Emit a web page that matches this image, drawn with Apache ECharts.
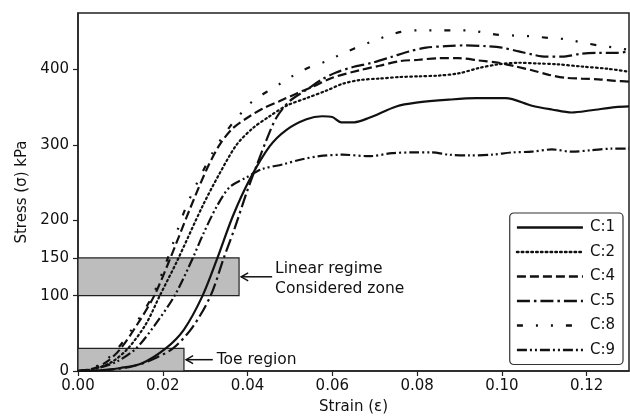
<!DOCTYPE html>
<html><head><meta charset="utf-8">
<script src="https://cdn.jsdelivr.net/npm/echarts@6/dist/echarts.min.js"></script>
<style>html,body{margin:0;padding:0;background:#fff}#c{width:630px;height:420px}</style>
</head><body><div id="c"></div>
<script>
const xTicks = [0, 0.02, 0.04, 0.06, 0.08, 0.10, 0.12];
const yTicks = [0, 100, 150, 200, 300, 400];
const seriesNames = ['C:1', 'C:2', 'C:4', 'C:5', 'C:8', 'C:9'];

const c1 = [[0,0],[0.005,1],[0.01,4],[0.015,10],[0.0207,30],[0.025,55],[0.0294,100],[0.0329,150],[0.0365,205],[0.0405,254],[0.0452,298],[0.0492,320],[0.0539,334],[0.0576,338],[0.060,337],[0.0621,330],[0.0652,330],[0.0687,336],[0.0751,351],[0.0798,356],[0.0875,360],[0.0939,362],[0.1009,362],[0.1071,352],[0.1118,347],[0.1165,343],[0.1212,346],[0.1268,350],[0.13,351]];
const c2 = [[0,0],[0.004,3],[0.008,12],[0.0118,30],[0.016,62],[0.0193,100],[0.0233,145],[0.0294,219],[0.0334,262],[0.0374,300],[0.0412,322],[0.0452,338],[0.0492,352],[0.0539,362],[0.0586,372],[0.0624,381],[0.0664,386],[0.0711,388],[0.0758,390],[0.0805,391],[0.0852,392],[0.0899,395],[0.0946,402],[0.0993,407],[0.104,409],[0.1085,408],[0.113,407],[0.1188,404],[0.125,401],[0.13,397]];
const c4 = [[0,0],[0.004,4],[0.007,13],[0.0101,30],[0.014,62],[0.018,100],[0.0218,150],[0.0264,215],[0.0304,268],[0.0334,300],[0.0365,322],[0.0405,338],[0.0435,348],[0.0475,358],[0.0515,368],[0.0553,377],[0.060,389],[0.0664,399],[0.0711,405],[0.0758,411],[0.0805,413],[0.0852,415],[0.0899,415],[0.0946,412],[0.0993,409],[0.1033,404],[0.1071,399],[0.1111,393],[0.1151,389],[0.1188,388],[0.1228,387],[0.1268,385],[0.13,384]];
const c5 = [[0,0],[0.006,1],[0.012,5],[0.017,14],[0.0224,30],[0.027,58],[0.0313,100],[0.0344,150],[0.037,190],[0.0398,237],[0.0421,272],[0.0445,307],[0.0468,336],[0.0499,358],[0.0539,373],[0.0576,387],[0.0609,396],[0.0647,403],[0.0694,409],[0.0741,417],[0.0781,424],[0.0821,429],[0.0868,431],[0.0915,432],[0.0962,431],[0.1,429],[0.104,424],[0.1071,420],[0.1104,417],[0.1141,417],[0.1188,421],[0.1228,422],[0.1268,422],[0.13,424]];
const c8 = [[0,0],[0.003,3],[0.006,12],[0.0094,30],[0.0135,62],[0.0176,100],[0.0212,150],[0.0256,219],[0.0318,290],[0.0362,327],[0.0388,344],[0.0412,358],[0.0447,371],[0.0482,383],[0.0511,393],[0.0546,403],[0.0586,411],[0.0616,419],[0.0652,428],[0.0692,437],[0.0727,444],[0.0762,450],[0.0805,452],[0.084,452],[0.0882,452],[0.0922,452],[0.0958,449],[0.0993,446],[0.1033,445],[0.1071,444],[0.1111,442],[0.1153,440],[0.1188,436],[0.1228,432],[0.1268,429],[0.13,426]];
const c9 = [[0,0],[0.004,3],[0.009,12],[0.0137,30],[0.018,60],[0.0228,100],[0.0271,150],[0.0294,180],[0.0327,218],[0.0358,244],[0.0398,257],[0.0435,268],[0.0482,274],[0.0529,281],[0.0569,285],[0.0624,287],[0.0687,285],[0.0741,289],[0.0788,290],[0.0835,290],[0.0875,287],[0.0922,286],[0.0976,287],[0.1024,290],[0.1071,291],[0.1118,294],[0.1165,291],[0.1212,293],[0.1259,295],[0.13,295]];
const seriesData = [c1, c2, c4, c5, c8, c9];

const linearZone = [[0, 100], [0.038, 150]];
const toeZone = [[0, 0], [0.025, 30]];
const linearArrow = [[0.0458, 125], [0.0385, 125]];
const toeArrow = [[0.0318, 15], [0.0255, 15]];
const linearText = ['Linear regime', 'Considered zone'];
const toeText = 'Toe region';

const dashes = ['solid', [1.6, 3.2], [9, 4], [13, 4, 2.5, 4], [6, 13, 2, 13, 2, 13], [10, 3, 2, 3, 2, 3]];
const FONT = 'DejaVu Sans';
const INK = '#111';

const chart = echarts.init(document.getElementById('c'), null, {renderer: 'canvas'});

const series = seriesNames.map((n, i) => ({
  name: n, type: 'line', data: seriesData[i], showSymbol: false, symbol: 'none',
  smooth: 0.3, z: 3,
  lineStyle: {color: INK, width: 2.2, type: dashes[i], cap: i === 1 ? 'round' : 'butt'},
  itemStyle: {color: INK}
}));
series.push({
  name: 'zones', type: 'line', data: [], z: 1,
  markArea: {
    silent: true,
    itemStyle: {color: '#bdbdbd', borderColor: '#222', borderWidth: 1.2},
    data: [
      [{coord: linearZone[0]}, {coord: linearZone[1]}],
      [{coord: toeZone[0]}, {coord: toeZone[1]}]
    ]
  }
});

chart.setOption({
  animation: false,
  backgroundColor: '#fff',
  grid: {left: 78, right: 1, top: 13, bottom: 48, show: true, borderColor: '#222', borderWidth: 1.5, backgroundColor: 'transparent'},
  legend: {
    data: seriesNames, orient: 'vertical', right: 7, top: 213,
    itemWidth: 66, itemHeight: 14, itemGap: 9.5,
    backgroundColor: '#fff', borderColor: '#333', borderWidth: 1.2, borderRadius: 4,
    padding: [7, 8, 7, 6],
    itemStyle: {opacity: 0, borderWidth: 0},
    textStyle: {fontFamily: FONT, fontSize: 15, color: INK, padding: [0, 0, 0, 2]},
    lineStyle: {width: 2.4}
  },
  xAxis: {
    type: 'value', min: 0, max: 0.13, interval: 0.02,
    name: 'Strain (\u03b5)', nameLocation: 'middle', nameGap: 29,
    nameTextStyle: {fontFamily: FONT, fontSize: 15, color: INK},
    axisLine: {show: true, onZero: false, lineStyle: {color: '#222', width: 1.5}},
    axisTick: {show: true, inside: false, length: 5, lineStyle: {color: '#222', width: 1.2}, customValues: xTicks},
    axisLabel: {fontFamily: FONT, fontSize: 15, color: INK, margin: 8, customValues: xTicks, formatter: v => v.toFixed(2)},
    splitLine: {show: false}
  },
  yAxis: {
    type: 'value', min: 0, max: 475,
    name: 'Stress (\u03c3) kPa', nameLocation: 'middle', nameGap: 48,
    nameTextStyle: {fontFamily: FONT, fontSize: 15, color: INK},
    axisLine: {show: true, onZero: false, lineStyle: {color: '#222', width: 1.5}},
    axisTick: {show: true, inside: false, length: 5, lineStyle: {color: '#222', width: 1.2}, customValues: yTicks},
    axisLabel: {fontFamily: FONT, fontSize: 15, color: INK, margin: 9, customValues: yTicks},
    splitLine: {show: false}
  },
  series: series
});

function px(p) { return chart.convertToPixel({gridIndex: 0}, p); }
function arrow(a) {
  const s = px(a[0]), e = px(a[1]);
  const dir = Math.sign(s[0] - e[0]);
  return [
    {type: 'line', shape: {x1: s[0], y1: s[1], x2: e[0], y2: e[1]}, style: {stroke: INK, lineWidth: 1.5}, z: 10},
    {type: 'polyline', shape: {points: [[e[0] + dir * 7, e[1] - 4], [e[0], e[1]], [e[0] + dir * 7, e[1] + 4]]}, style: {stroke: INK, lineWidth: 1.5, fill: null}, z: 10}
  ];
}
const la = px(linearArrow[0]), ta = px(toeArrow[0]);
const graphics = [].concat(arrow(linearArrow), arrow(toeArrow), [
  {type: 'text', x: la[0] + 3, y: la[1] - 8, style: {text: linearText[0], font: '15.5px ' + FONT, fill: INK, textVerticalAlign: 'middle'}, z: 10},
  {type: 'text', x: la[0] + 3, y: la[1] + 12, style: {text: linearText[1], font: '15.5px ' + FONT, fill: INK, textVerticalAlign: 'middle'}, z: 10},
  {type: 'text', x: ta[0] + 4, y: ta[1], style: {text: toeText, font: '15.5px ' + FONT, fill: INK, textVerticalAlign: 'middle'}, z: 10}
]);
chart.setOption({graphic: graphics});
</script></body></html>
